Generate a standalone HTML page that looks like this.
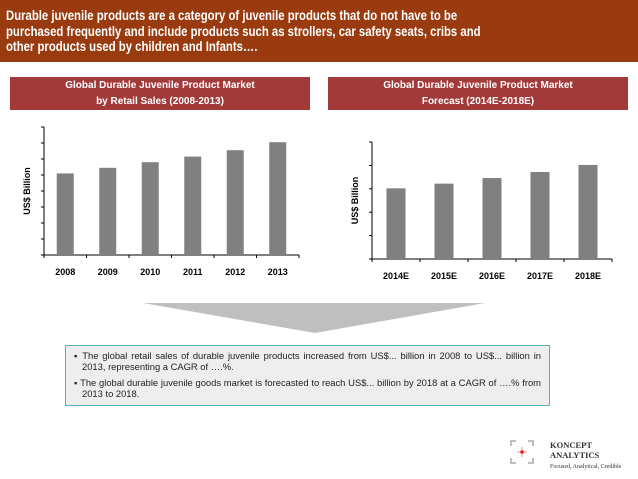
<!DOCTYPE html>
<html><head><meta charset="utf-8"><style>
body{margin:0;width:638px;height:479px;background:#fff;font-family:"Liberation Sans",sans-serif;position:relative;overflow:hidden}
.top{position:absolute;left:0;top:0;width:638px;height:62px;background:#993a0f}
.top div{position:absolute;left:6px;top:8px;width:700px;color:#fff;font-weight:bold;font-size:14px;line-height:15.5px;transform:scaleX(0.81);transform-origin:left top;white-space:nowrap}
.ban{position:absolute;top:77px;height:33px;background:#a33a3a;color:#fff;font-weight:bold;font-size:10px;text-align:center;line-height:16px;padding-top:1px;box-sizing:border-box}
.box{position:absolute;left:65px;top:345px;width:485px;height:61px;background:#eeeeee;border:1.5px solid #55b4b8;box-sizing:border-box;font-size:9.4px;color:#222;padding:4px 8px 0 8px;line-height:11px;text-align:justify}
.box p{margin:0 0 5px 0;padding-left:8px;text-indent:-8px}
</style></head><body>
<div class="top"><div>Durable juvenile products are a category of juvenile products that do not have to be<br>purchased frequently and include products such as strollers, car safety seats, cribs and<br>other products used by children and Infants….</div></div>
<div class="ban" style="left:10px;width:300px">Global Durable Juvenile Product Market<br>by Retail Sales (2008-2013)</div>
<div class="ban" style="left:328px;width:300px">Global Durable Juvenile Product Market<br>Forecast  (2014E-2018E)</div>
<svg width="638" height="479" style="position:absolute;left:0;top:0" id="svg">
<polygon points="143,303 485,303 315,333" fill="#bfbfbf"/>
<g id="c1"></g>
<g id="c2"></g>
</svg>
<div class="box">
<p>▪ The global retail sales of durable juvenile products increased from US$... billion in 2008 to US$... billion in 2013, representing a CAGR of ….%.</p>
<p>▪ The global durable juvenile goods market is forecasted to reach US$... billion by 2018 at a CAGR of ….% from 2013 to 2018.</p>
</div>
<svg width="60" height="40" style="position:absolute;left:508px;top:438px">
<path d="M3,8 V3 H8 M20,3 H25 V8 M3,20 V25 H8 M20,25 H25 V20" stroke="#aaa" fill="none" stroke-width="1.5"/>
<path d="M9,14 H19 M14,9 V19" stroke="#e88" stroke-width="1"/><circle cx="14" cy="14" r="1.8" fill="#d22"/>
</svg>
<div style="position:absolute;left:550px;top:440px;font-family:'Liberation Serif',serif;font-size:8.5px;font-weight:bold;color:#333;line-height:10px">KONCEPT<br>ANALYTICS<br><span style="font-weight:normal;font-size:6px">Focused, Analytical, Credible</span></div>
<script>
const cats1=["2008","2009","2010","2011","2012","2013"];
const vals1=[5.1,5.45,5.8,6.15,6.55,7.05];
const cats2=["2014E","2015E","2016E","2017E","2018E"];
const vals2=[3.02,3.22,3.46,3.72,4.02];
const NS="http://www.w3.org/2000/svg";
function mk(t,a,p){const e=document.createElementNS(NS,t);for(const k in a)e.setAttribute(k,a[k]);p.appendChild(e);return e;}
function chart(g,cats,vals,o){
 const y=v=>o.y1-(v/o.max)*(o.y1-o.y0);
 const step=(o.x1-o.x0)/cats.length;
 const ax=mk('line',{x1:o.x0,y1:o.y0,x2:o.x0,y2:o.y1,stroke:'#000','stroke-width':1},g);
 
 
 const bx=mk('line',{x1:o.x0,y1:o.y1,x2:o.x1,y2:o.y1,stroke:'#000','stroke-width':1},g);
 
 
 for(let i=0;i<=o.ticks;i++){const v=o.max*i/o.ticks;const t=mk('line',{x1:o.x0-3,x2:o.x0,y1:y(v),y2:y(v),stroke:'#000'},g);
  
  }
 for(let i=0;i<=cats.length;i++){mk('line',{x1:o.x0+i*step,x2:o.x0+i*step,y1:o.y1,y2:o.y1+3,stroke:'#000'},g);}
 cats.forEach((c,i)=>{
  const cx=o.x0+step*(i+0.5);
  const r=mk('rect',{x:cx-o.bw/2,y:y(vals[i]),width:o.bw,height:o.y1-y(vals[i]),fill:'#808080'},g);
  
  
  const t=mk('text',{x:cx,y:o.y1+20,'text-anchor':'middle','font-size':9,'font-weight':'bold','font-family':'Liberation Sans, sans-serif'},g);
  t.textContent=c;
  
  
 });
 const yt=mk('text',{transform:`translate(${o.x0-14},${(o.y0+o.y1)/2}) rotate(-90)`,'text-anchor':'middle','font-size':9,'font-weight':'bold','font-family':'Liberation Sans, sans-serif'},g);
 yt.textContent='US$ Billion';
 
 
}
chart(document.getElementById('c1'),cats1,vals1,{x0:44,x1:299,y0:127,y1:255,max:8,ticks:8,bw:17});
chart(document.getElementById('c2'),cats2,vals2,{x0:372,x1:612,y0:142,y1:259,max:5,ticks:5,bw:19});
</script>
</body></html>
